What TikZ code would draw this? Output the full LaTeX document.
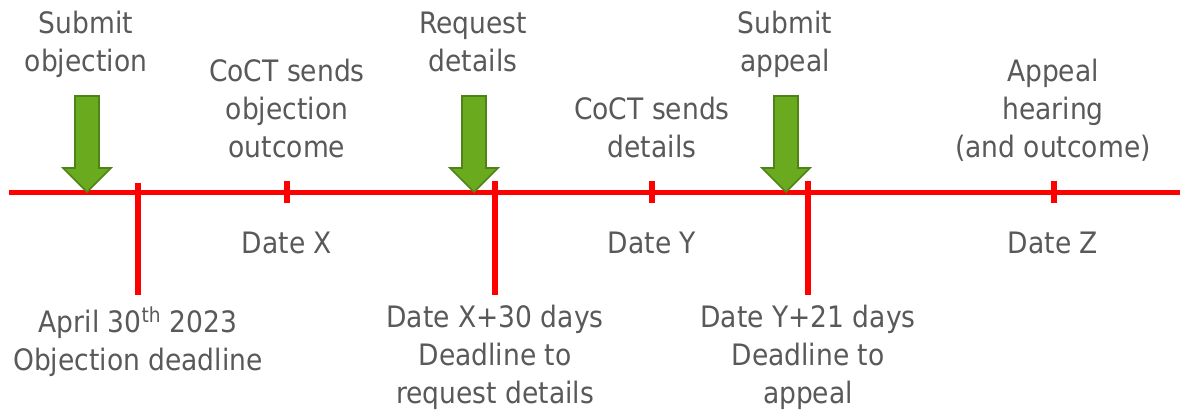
\documentclass[tikz,border=0pt]{standalone}
\usepackage{fontspec}
\IfFontExistsTF{DejaVu Sans Condensed}{\setmainfont{DejaVu Sans Condensed}}{\setmainfont{DejaVu Sans}}
\definecolor{txtgray}{HTML}{595959}
\definecolor{linered}{HTML}{FF0000}
\definecolor{arrowfill}{HTML}{6AAA1E}
\definecolor{arrowedge}{HTML}{4E8416}
\tikzset{
  lbl/.style={text=txtgray, align=center, inner sep=0pt, anchor=base,
    font=\fontsize{29.5}{38}\selectfont},
  redline/.style={draw=linered, line width=5pt},
  shade line/.style={draw=black, opacity=0.18, line width=5pt},
  greenarrow/.style={fill=arrowfill, draw=arrowedge, line width=1.6pt, line join=miter},
}
% downward block arrow: tip at #1
\newcommand{\downarrowat}[2]{%
  \path[greenarrow] (#1-12,96) -- (#1+12,96) -- (#1+12,168) -- (#1+24,168)
    -- (#1,192) -- (#1-24,168) -- (#1-12,168) -- cycle;
  \coordinate (#2) at (#1,192);}
\begin{document}
\begin{tikzpicture}[x=1pt,y=-1pt]
\useasboundingbox[fill=white] (0,0) rectangle (1180,414);

% timeline anchors
\coordinate (tlA) at (9,193);
\coordinate (tlB) at (1180,193);
\coordinate (d0t) at (138,183);  \coordinate (d0b) at (138,295);
\coordinate (d1t) at (495,181);  \coordinate (d1b) at (495,295);
\coordinate (d2t) at (808,181);  \coordinate (d2b) at (808,295);
\coordinate (sXt) at (287,181);  \coordinate (sXb) at (287,203);
\coordinate (sYt) at (652,181);  \coordinate (sYb) at (652,203);
\coordinate (sZt) at (1054,181); \coordinate (sZb) at (1054,203);

% soft shadow under the lines
\begin{scope}[shift={(1,2.5)}]
  \draw[shade line] (tlA) -- (tlB);
  \foreach \a in {d0,d1,d2} \draw[shade line] (\a t) -- (\a b);
  \foreach \a in {sX,sY,sZ} \draw[shade line] (\a t) -- (\a b);
\end{scope}

% timeline and ticks
\draw[redline] (tlA) -- (tlB);
\foreach \a in {d0,d1,d2} \draw[redline, line width=5.5pt] (\a t) -- (\a b);
\foreach \a in {sX,sY,sZ} \draw[redline, line width=6pt] (\a t) -- (\a b);

% action arrows
\downarrowat{87}{arrA}
\downarrowat{474}{arrB}
\downarrowat{786}{arrC}

% labels above the line
\node[lbl] (submitobj) at (86,72) {Submit\\objection};
\node[lbl] (cocto) at (287,158) {CoCT sends\\objection\\outcome};
\node[lbl] (reqdet) at (473,72) {Request\\details};
\node[lbl] (coctd) at (652,158) {CoCT sends\\details};
\node[lbl] (subapp) at (785,72) {Submit\\appeal};
\node[lbl] (hearing) at (1053,158) {Appeal\\hearing\\(and outcome)};

% labels below the line
\node[lbl] (datex) at (287,253) {Date X};
\node[lbl] (datey) at (652,253) {Date Y};
\node[lbl] (datez) at (1053,253) {Date Z};
\node[lbl] (objdl) at (138,370) {April 30\textsuperscript{th} 2023\\Objection deadline};
\node[lbl] (reqdl) at (495,403) {Date X+30 days\\Deadline to\\request details};
\node[lbl] (appdl) at (808,403) {Date Y+21 days\\Deadline to\\appeal};
\end{tikzpicture}
\end{document}
